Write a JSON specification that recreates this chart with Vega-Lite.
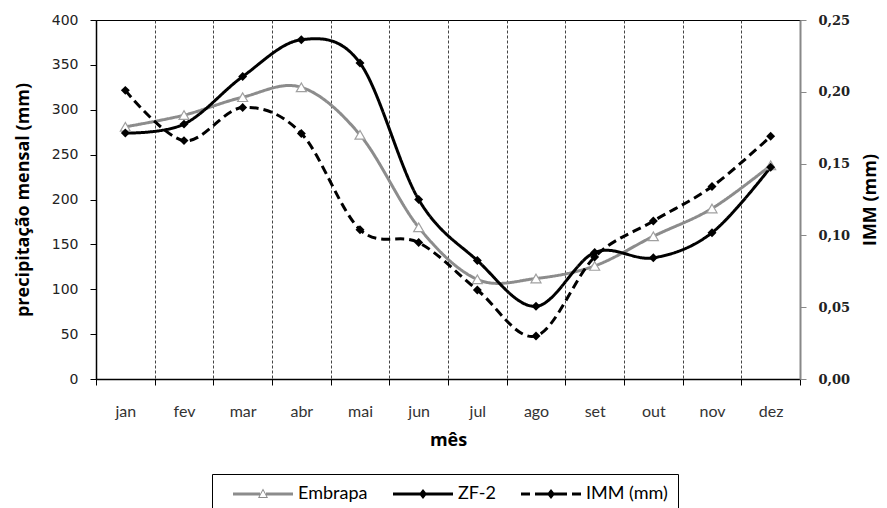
{
  "$schema": "https://vega.github.io/schema/vega-lite/v6.json",
  "width": 704,
  "height": 359,
  "autosize": {"type": "none"},
  "padding": {"left": 96, "top": 20, "right": 87, "bottom": 129},
  "background": "white",
  "config": {
    "view": {"stroke": "black", "strokeWidth": 1},
    "legend": {
      "title": null, "orient": "none", "legendX": 116, "legendY": 454, "direction": "horizontal",
      "strokeColor": "black", "padding": 10, "symbolType": "stroke", "symbolSize": 400, "symbolStrokeWidth": 0,
      "labelFont": "Lato", "labelFontSize": 18, "labelColor": "black", "labelOffset": 56, "columnPadding": 14
    }
  },
  "data": {"values": [
    {"mes": "jan", "serie": "Embrapa", "valor": 281},
    {"mes": "fev", "serie": "Embrapa", "valor": 294},
    {"mes": "mar", "serie": "Embrapa", "valor": 314},
    {"mes": "abr", "serie": "Embrapa", "valor": 325},
    {"mes": "mai", "serie": "Embrapa", "valor": 272},
    {"mes": "jun", "serie": "Embrapa", "valor": 169},
    {"mes": "jul", "serie": "Embrapa", "valor": 111},
    {"mes": "ago", "serie": "Embrapa", "valor": 112},
    {"mes": "set", "serie": "Embrapa", "valor": 126},
    {"mes": "out", "serie": "Embrapa", "valor": 159},
    {"mes": "nov", "serie": "Embrapa", "valor": 190},
    {"mes": "dez", "serie": "Embrapa", "valor": 238},
    {"mes": "jan", "serie": "ZF-2", "valor": 274},
    {"mes": "fev", "serie": "ZF-2", "valor": 284},
    {"mes": "mar", "serie": "ZF-2", "valor": 337},
    {"mes": "abr", "serie": "ZF-2", "valor": 378},
    {"mes": "mai", "serie": "ZF-2", "valor": 352},
    {"mes": "jun", "serie": "ZF-2", "valor": 200},
    {"mes": "jul", "serie": "ZF-2", "valor": 132},
    {"mes": "ago", "serie": "ZF-2", "valor": 81},
    {"mes": "set", "serie": "ZF-2", "valor": 141},
    {"mes": "out", "serie": "ZF-2", "valor": 135},
    {"mes": "nov", "serie": "ZF-2", "valor": 163},
    {"mes": "dez", "serie": "ZF-2", "valor": 236},
    {"mes": "jan", "serie": "IMM (mm)", "valor": 0.201},
    {"mes": "fev", "serie": "IMM (mm)", "valor": 0.166},
    {"mes": "mar", "serie": "IMM (mm)", "valor": 0.189},
    {"mes": "abr", "serie": "IMM (mm)", "valor": 0.171},
    {"mes": "mai", "serie": "IMM (mm)", "valor": 0.104},
    {"mes": "jun", "serie": "IMM (mm)", "valor": 0.095},
    {"mes": "jul", "serie": "IMM (mm)", "valor": 0.062},
    {"mes": "ago", "serie": "IMM (mm)", "valor": 0.030},
    {"mes": "set", "serie": "IMM (mm)", "valor": 0.085},
    {"mes": "out", "serie": "IMM (mm)", "valor": 0.110},
    {"mes": "nov", "serie": "IMM (mm)", "valor": 0.134},
    {"mes": "dez", "serie": "IMM (mm)", "valor": 0.169}
  ]},
  "encoding": {
    "x": {
      "field": "mes", "type": "ordinal",
      "sort": ["jan", "fev", "mar", "abr", "mai", "jun", "jul", "ago", "set", "out", "nov", "dez"],
      "scale": {"type": "band", "paddingInner": 0, "paddingOuter": 0},
      "bandPosition": 0.5,
      "axis": {
        "title": "mês", "titleFont": "Open Sans", "titleFontSize": 18, "titleFontWeight": "bold", "titleColor": "black",
        "titleX": 352, "titleY": 61, "titleBaseline": "middle", "titleAlign": "center",
        "labelAngle": 0, "labelFont": "Lato", "labelFontSize": 16, "labelColor": "#333", "labelPadding": 18,
        "tickBand": "extent", "ticks": true, "tickSize": 6, "tickColor": "black",
        "domainColor": "black", "domainWidth": 1.5,
        "grid": true, "gridColor": "#444", "gridDash": [3, 2], "gridWidth": 1
      }
    }
  },
  "layer": [
    {
      "transform": [{"filter": "datum.serie !== 'IMM (mm)'"}],
      "encoding": {
        "y": {
          "field": "valor", "type": "quantitative",
          "scale": {"domain": [0, 400], "nice": false, "zero": true},
          "axis": {
            "title": "precipitação mensal (mm)", "titleFont": "Open Sans", "titleFontSize": 18, "titleFontWeight": "bold", "titleColor": "black",
            "titleX": -73, "titleY": 179.5, "titleAngle": 270, "titleAlign": "center", "titleBaseline": "middle",
            "values": [0, 50, 100, 150, 200, 250, 300, 350, 400],
            "grid": false, "tickSize": 6, "tickColor": "black", "domainColor": "black", "domainWidth": 1.5,
            "labelFont": "DejaVu Sans", "labelFontSize": 14, "labelColor": "#222", "labelPadding": 12
          }
        }
      },
      "layer": [
        {
          "mark": {"type": "line", "interpolate": "cardinal", "strokeWidth": 3},
          "encoding": {
            "color": {"field": "serie", "type": "nominal",
              "scale": {"domain": ["Embrapa", "ZF-2", "IMM (mm)"], "range": ["#8c8c8c", "#000000", "#000000"]},
              "legend": {
                "encode": {"symbols": {"update": {
                  "shape": {"signal": "datum.value === 'Embrapa' ? 'M0.1,-0.15H2.8V0.15H0.1Z M3.4,-0.15H6.1V0.15H3.4Z M3.1,-0.55L3.6,0.4L2.6,0.4Z M3.1,-0.35L2.75,0.3L3.45,0.3Z' : datum.value === 'ZF-2' ? 'M0.1,-0.15H6.1V0.15H0.1Z M3.1,-0.5L3.5,0L3.1,0.5L2.7,0Z' : 'M0.1,-0.15H1V0.15H0.1Z M1.5,-0.15H4.7V0.15H1.5Z M5.2,-0.15H6.1V0.15H5.2Z M3.1,-0.5L3.5,0L3.1,0.5L2.7,0Z'"},
                  "fill": {"signal": "datum.value === 'Embrapa' ? '#8c8c8c' : 'black'"},
                  "fillOpacity": {"value": 1},
                  "strokeWidth": {"value": 0}
                }}}
              }
            },
            "strokeDash": {"field": "serie", "type": "nominal",
              "scale": {"domain": ["Embrapa", "ZF-2", "IMM (mm)"], "range": [[1, 0], [1, 0], [9, 5]]},
              "legend": {
                "encode": {"symbols": {"update": {
                  "shape": {"signal": "datum.value === 'Embrapa' ? 'M0.1,-0.15H2.8V0.15H0.1Z M3.4,-0.15H6.1V0.15H3.4Z M3.1,-0.55L3.6,0.4L2.6,0.4Z M3.1,-0.35L2.75,0.3L3.45,0.3Z' : datum.value === 'ZF-2' ? 'M0.1,-0.15H6.1V0.15H0.1Z M3.1,-0.5L3.5,0L3.1,0.5L2.7,0Z' : 'M0.1,-0.15H1V0.15H0.1Z M1.5,-0.15H4.7V0.15H1.5Z M5.2,-0.15H6.1V0.15H5.2Z M3.1,-0.5L3.5,0L3.1,0.5L2.7,0Z'"},
                  "fill": {"signal": "datum.value === 'Embrapa' ? '#8c8c8c' : 'black'"},
                  "fillOpacity": {"value": 1},
                  "strokeWidth": {"value": 0}
                }}}
              }
            }
          }
        },
        {
          "transform": [{"filter": "datum.serie === 'Embrapa'"}],
          "mark": {"type": "point", "shape": "triangle-up", "size": 100, "filled": true, "fill": "white", "stroke": "#a0a0a0", "strokeWidth": 1.2, "opacity": 1}
        },
        {
          "transform": [{"filter": "datum.serie === 'ZF-2'"}],
          "mark": {"type": "point", "shape": "diamond", "size": 80, "filled": true, "color": "black", "opacity": 1}
        }
      ]
    },
    {
      "transform": [{"filter": "datum.serie === 'IMM (mm)'"}],
      "encoding": {
        "y": {
          "field": "valor", "type": "quantitative",
          "scale": {"domain": [0, 0.25], "nice": false, "zero": true},
          "axis": {
            "orient": "right",
            "title": "IMM (mm)", "titleFont": "Open Sans", "titleFontSize": 18, "titleFontWeight": "bold", "titleColor": "black",
            "titleX": 70, "titleY": 179.5, "titleAngle": 270, "titleAlign": "center", "titleBaseline": "middle",
            "values": [0, 0.05, 0.1, 0.15, 0.2, 0.25],
            "labelExpr": "replace(format(datum.value, '.2f'), '.', ',')",
            "grid": false, "tickSize": 6, "tickColor": "#888", "domainColor": "#888", "domainWidth": 2,
            "labelFont": "DejaVu Serif", "labelFontWeight": "bold", "labelFontSize": 13, "labelColor": "#222", "labelPadding": 12
          }
        }
      },
      "layer": [
        {
          "mark": {"type": "line", "interpolate": "cardinal", "strokeWidth": 3},
          "encoding": {
            "color": {"field": "serie", "type": "nominal",
              "scale": {"domain": ["Embrapa", "ZF-2", "IMM (mm)"], "range": ["#8c8c8c", "#000000", "#000000"]},
              "legend": {
                "encode": {"symbols": {"update": {
                  "shape": {"signal": "datum.value === 'Embrapa' ? 'M0.1,-0.15H2.8V0.15H0.1Z M3.4,-0.15H6.1V0.15H3.4Z M3.1,-0.55L3.6,0.4L2.6,0.4Z M3.1,-0.35L2.75,0.3L3.45,0.3Z' : datum.value === 'ZF-2' ? 'M0.1,-0.15H6.1V0.15H0.1Z M3.1,-0.5L3.5,0L3.1,0.5L2.7,0Z' : 'M0.1,-0.15H1V0.15H0.1Z M1.5,-0.15H4.7V0.15H1.5Z M5.2,-0.15H6.1V0.15H5.2Z M3.1,-0.5L3.5,0L3.1,0.5L2.7,0Z'"},
                  "fill": {"signal": "datum.value === 'Embrapa' ? '#8c8c8c' : 'black'"},
                  "fillOpacity": {"value": 1},
                  "strokeWidth": {"value": 0}
                }}}
              }
            },
            "strokeDash": {"field": "serie", "type": "nominal",
              "scale": {"domain": ["Embrapa", "ZF-2", "IMM (mm)"], "range": [[1, 0], [1, 0], [9, 5]]},
              "legend": {
                "encode": {"symbols": {"update": {
                  "shape": {"signal": "datum.value === 'Embrapa' ? 'M0.1,-0.15H2.8V0.15H0.1Z M3.4,-0.15H6.1V0.15H3.4Z M3.1,-0.55L3.6,0.4L2.6,0.4Z M3.1,-0.35L2.75,0.3L3.45,0.3Z' : datum.value === 'ZF-2' ? 'M0.1,-0.15H6.1V0.15H0.1Z M3.1,-0.5L3.5,0L3.1,0.5L2.7,0Z' : 'M0.1,-0.15H1V0.15H0.1Z M1.5,-0.15H4.7V0.15H1.5Z M5.2,-0.15H6.1V0.15H5.2Z M3.1,-0.5L3.5,0L3.1,0.5L2.7,0Z'"},
                  "fill": {"signal": "datum.value === 'Embrapa' ? '#8c8c8c' : 'black'"},
                  "fillOpacity": {"value": 1},
                  "strokeWidth": {"value": 0}
                }}}
              }
            }
          }
        },
        {
          "mark": {"type": "point", "shape": "diamond", "size": 80, "filled": true, "color": "black", "opacity": 1}
        }
      ]
    }
  ],
  "resolve": {"scale": {"y": "independent"}}
}
